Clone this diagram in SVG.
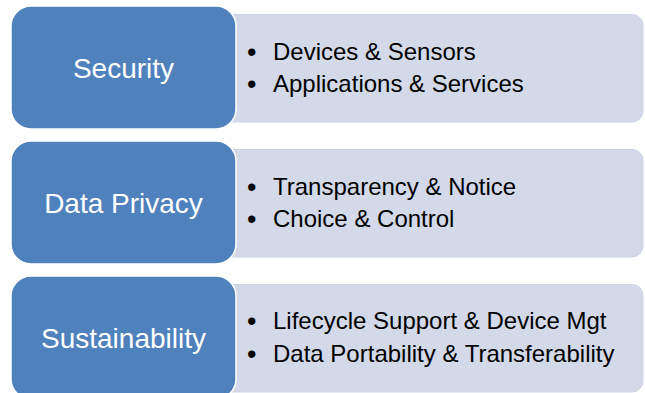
<svg xmlns="http://www.w3.org/2000/svg" width="645" height="393" viewBox="0 0 645 393">
<style>
.lt{fill:#D3D9E8;stroke:#CCD3E4;stroke-width:1}
.bl{fill:#4F81BD;stroke:#FFFFFF;stroke-width:1.5}
.lab{font-family:"Liberation Sans",Arial,sans-serif;font-size:28px;fill:#FFFFFF;text-anchor:middle}
.it{font-family:"Liberation Sans",Arial,sans-serif;font-size:24px;fill:#000000}
.bu{font-family:"Liberation Sans",Arial,sans-serif;font-size:27px;fill:#000000}
</style>
<rect width="645" height="393" fill="#FFFFFF"/>
<g id="connectors"></g>
<g id="security">
<path class="lt" d="M225,14.5 H632 A11,11 0 0 1 643,25.5 V111 A11,11 0 0 1 632,122 H225 Z"/>
<rect class="bl" x="11" y="6" width="225" height="123" rx="20"/>
<text class="lab" x="123.5" y="77.5">Security</text>
<text class="bu" x="247" y="61">•</text>
<text class="it" x="273" y="60">Devices &amp; Sensors</text>
<text class="bu" x="247" y="93">•</text>
<text class="it" x="273" y="92">Applications &amp; Services</text>
</g>
<g id="data-privacy">
<path class="lt" d="M225,149.5 H632 A11,11 0 0 1 643,160.5 V246 A11,11 0 0 1 632,257 H225 Z"/>
<rect class="bl" x="11" y="141" width="225" height="123" rx="20"/>
<text class="lab" x="123.5" y="212.5">Data Privacy</text>
<text class="bu" x="247" y="196">•</text>
<text class="it" x="273" y="195">Transparency &amp; Notice</text>
<text class="bu" x="247" y="228">•</text>
<text class="it" x="273" y="227">Choice &amp; Control</text>
</g>
<g id="sustainability">
<path class="lt" d="M225,284.5 H632 A11,11 0 0 1 643,295.5 V381 A11,11 0 0 1 632,392 H225 Z"/>
<rect class="bl" x="11" y="276" width="225" height="123" rx="20"/>
<text class="lab" x="123.5" y="347.5">Sustainability</text>
<text class="bu" x="247" y="330">•</text>
<text class="it" x="273" y="329">Lifecycle Support &amp; Device Mgt</text>
<text class="bu" x="247" y="363">•</text>
<text class="it" x="273" y="362">Data Portability &amp; Transferability</text>
</g>
</svg>
